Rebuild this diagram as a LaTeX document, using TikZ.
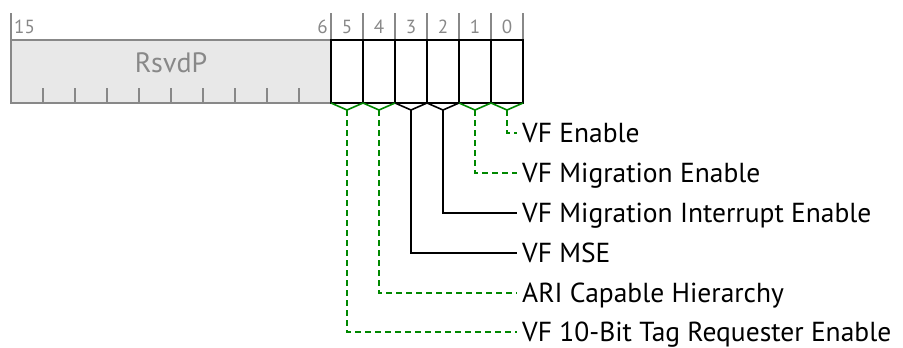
\documentclass[tikz,border=0pt]{standalone}
\usepackage{fontspec}
\setmainfont{PT Sans}
\definecolor{rgray}{HTML}{888888}
\definecolor{rfill}{HTML}{E8E8E8}
\definecolor{lgreen}{HTML}{008800}
\begin{document}
\begin{tikzpicture}[x=1pt,y=-1pt,
  bitnum/.style={text=rgray,font=\fontsize{19}{19}\selectfont,inner sep=0pt,text height=13pt,text depth=0pt},
  fieldlbl/.style={anchor=west,font=\fontsize{27.5}{27.5}\selectfont,inner sep=0pt,text height=19pt,text depth=0pt},
  gline/.style={rgray,line width=2.2pt},
  fbox/.style={draw=black,line width=2pt},
  greenlead/.style={lgreen,line width=1.6pt,dash pattern=on 6pt off 4pt},
  blacklead/.style={black,line width=1.6pt},
  greenv/.style={lgreen,line width=1.6pt},
  blackv/.style={black,line width=1.6pt}]
\useasboundingbox (0,0) rectangle (903,348);
% top ticks
\foreach \x in {11,331,363,395,427,459,491,523}
  \draw[rgray,line width=1.3pt] (\x,13) -- (\x,40);
\node[bitnum,anchor=west] (n15) at (14,27) {15};
\node[bitnum,anchor=east] (n6) at (328,27) {6};
\foreach \b in {0,...,5}{
  \node[bitnum] (n\b) at ({507-32*\b},27) {\b};
}
% reserved
\draw[gline,fill=rfill] (11,40) rectangle (331,103);
\node[text=rgray,font=\fontsize{28}{28}\selectfont,inner sep=0pt,text height=19.5pt,text depth=0pt] (rsvd) at (171,63) {RsvdP};
\foreach \i in {1,...,9}
  \draw[rgray,line width=1.3pt] ({11+32*\i},88) -- ({11+32*\i},103);
% field boxes
\foreach \b in {0,...,5}{
  \coordinate (bl\b) at ({491-32*\b},103);
  \coordinate (br\b) at ({523-32*\b},103);
  \coordinate (bv\b) at ({507-32*\b},110);
}
\foreach \b in {0,...,5}
  \draw[fbox] ({491-32*\b},40) rectangle ({523-32*\b},103);
% labels
\node[fieldlbl] (f0) at (522,133) {VF Enable};
\node[fieldlbl] (f1) at (522,173) {VF Migration Enable};
\node[fieldlbl] (f2) at (522,213) {VF Migration Interrupt Enable};
\node[fieldlbl] (f3) at (522,253) {VF MSE};
\node[fieldlbl] (f4) at (522,293) {ARI Capable Hierarchy};
\node[fieldlbl] (f5) at (522,332) {VF 10-Bit Tag Requester Enable};
% V shapes and leaders
\foreach \b/\s in {0/green,1/green,2/black,3/black,4/green,5/green}{
  \draw[\s v] (bl\b) -- (bv\b) -- (br\b);
  \draw[\s lead] (bv\b) |- ([xshift=-5pt]f\b.west);
}
\end{tikzpicture}
\end{document}
